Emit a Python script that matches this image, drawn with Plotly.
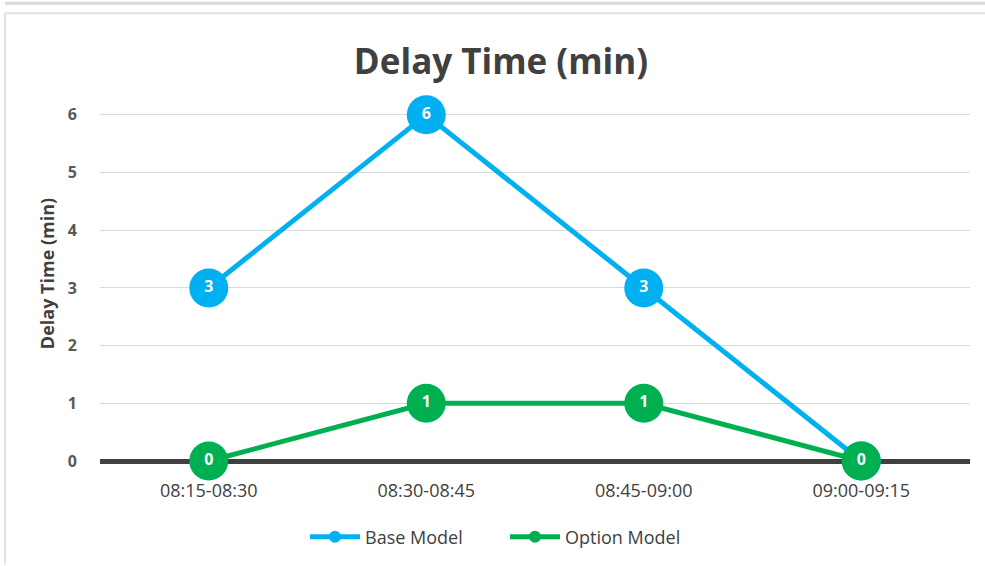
import plotly.graph_objects as go

periods = ["08:15-08:30", "08:30-08:45", "08:45-09:00", "09:00-09:15"]
base_model = [3, 6, 3, 0]
option_model = [0, 1, 1, 0]

C_BLUE = "#00B0F0"
C_GREEN = "#00B050"
C_TEXT = "#595959"
C_DARK = "#404040"
FONT = "Open Sans, Arial, sans-serif"

W, H = 985, 566
L, R, T, B = 100, 15, 86, 104
PW, PH = W - L - R, H - T - B


def px(x):
    return (x - L) / PW


def py(y):
    return (H - B - y) / PH


fig = go.Figure()
for name, vals, col in [("Base Model", base_model, C_BLUE),
                        ("Option Model", option_model, C_GREEN)]:
    fig.add_trace(go.Scatter(
        x=periods, y=vals, name=name, showlegend=False,
        mode="lines+markers+text",
        line=dict(color=col, width=5),
        marker=dict(color=col, size=39, line=dict(width=0)),
        text=[str(v) for v in vals], textposition="middle center",
        textfont=dict(color="white", size=16, family=FONT, weight="bold"),
        cliponaxis=False,
    ))
    # legend-only entry with a small marker
    fig.add_trace(go.Scatter(
        x=[None], y=[None], name=name, mode="lines+markers",
        line=dict(color=col, width=5),
        marker=dict(color=col, size=12),
    ))

# card borders around the chart
shapes = [
    dict(type="line", xref="paper", yref="paper", x0=px(5), x1=px(985),
         y0=py(3), y1=py(3), line=dict(color="#D9D9D9", width=3)),
    dict(type="line", xref="paper", yref="paper", x0=px(5), x1=px(985),
         y0=py(13), y1=py(13), line=dict(color="#E3E3E3", width=2)),
    dict(type="line", xref="paper", yref="paper", x0=px(5), x1=px(5),
         y0=py(13), y1=py(566), line=dict(color="#E3E3E3", width=2)),
]

fig.update_layout(
    width=W, height=H,
    margin=dict(l=L, r=R, t=T, b=B),
    paper_bgcolor="#FFFFFF", plot_bgcolor="#FFFFFF",
    font=dict(family=FONT, color=C_TEXT),
    title=dict(text="<b>Delay Time (min)</b>", x=px(501), xanchor="center",
               xref="paper", y=1 - 62 / H, yanchor="middle",
               font=dict(size=35, color=C_DARK, family=FONT)),
    showlegend=True,
    legend=dict(orientation="h", x=px(505), xanchor="center", y=py(537),
                yanchor="middle", font=dict(size=18, color=C_DARK),
                itemwidth=50, entrywidth=135, entrywidthmode="pixels"),
    shapes=shapes,
)
fig.update_xaxes(
    type="category", range=[-0.5, 3.5], showgrid=False,
    showline=False, ticks="", ticklabelstandoff=17,
    tickfont=dict(size=18, color=C_DARK, family=FONT),
)
fig.update_yaxes(
    range=[0, 6.5], dtick=1, gridcolor="#D9D9D9", gridwidth=1,
    zeroline=True, zerolinecolor=C_DARK, zerolinewidth=5,
    showline=False, ticks="", ticklabelstandoff=22,
    tickfont=dict(size=16, color=C_TEXT, family=FONT, weight="bold"),
    title=dict(text="<b>Delay Time (min)</b>", standoff=8,
               font=dict(size=18, color=C_DARK, family=FONT)),
)

fig.write_html("out.html", config={"displayModeBar": False},
               post_script="document.body.style.margin='0';")
